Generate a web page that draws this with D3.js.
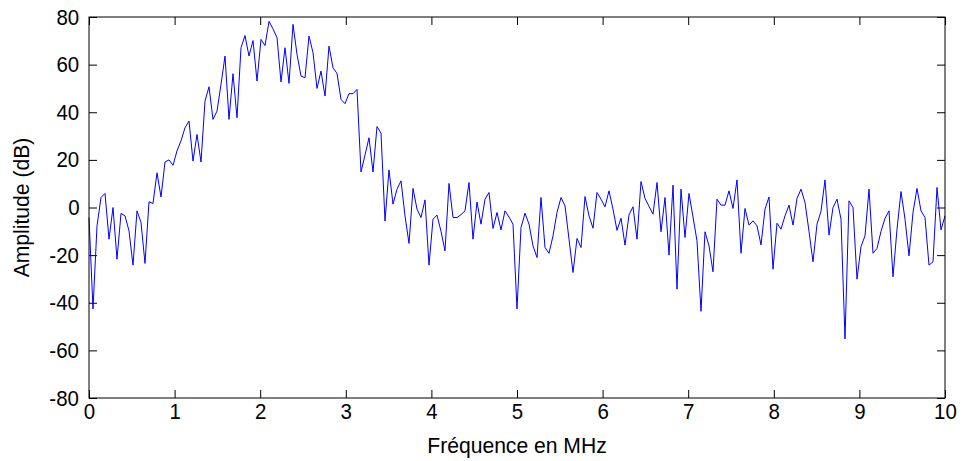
<!DOCTYPE html>
<html>
<head>
<meta charset="utf-8">
<script src="https://cdn.jsdelivr.net/npm/d3@7"></script>
<style>
    html, body { margin: 0; padding: 0; background: #fff; }
    svg { display: block; font-family: 'Liberation Sans', Arial, sans-serif; }
    svg text { transform-box: fill-box; transform-origin: center; }
    .tick text { transform: scaleX(0.93); }
    .axis-label { transform: scaleX(0.96); }
</style>
</head>
<body>
<div id="chart"></div>
<script>
'use strict';

// amplitude in dB, one sample every 10/214 MHz from 0 to 10 MHz
var amplitude = [
    -4.2, -42.6, -7.7, 4.2, 5.9, -13.3, 0, -21.7, -2.5, -3.5,
    -9.8, -24.2, -1.4, -6.3, -23.5, 2.4, 1.7, 14.6, 4.4, 19.1,
    20, 17.7, 23.8, 28, 33.5, 36.3, 19.5, 30.7, 19.1, 44.7,
    50.7, 37, 40.5, 51.7, 63.6, 37, 56.2, 37.7, 67.1, 72.2,
    63.6, 70.1, 53.1, 70.6, 68, 78.2, 75, 71.3, 52.7, 67.1,
    52.1, 76.9, 64.3, 55.2, 54.5, 72, 65, 50, 57.3, 46.8,
    67.8, 58.7, 56.3, 45.4, 43.6, 47.8, 47.8, 49.6, 14.9, 22,
    29.3, 14.9, 34, 31.2, -5.7, 15.8, 1.4, 7.7, 11.2, -3.5,
    -15.1, 8, -0.7, -4.2, 3.2, -24.2, -4.9, -3.2, -10, -18.2,
    10.1, -4.2, -4.2, -3, -1.4, 10.5, -13.3, 2.3, -7, 3.5,
    6.3, -8.8, -2.1, -9.4, -1.4, -4, -7, -42.6, -8.4, -2.4,
    -7, -16.1, -21, 4.2, -16.8, -19.2, -11.9, -2.1, 4.2, 0.7,
    -13.3, -27.3, -13, -16.8, 4.6, -3.5, -8.7, 6.3, 3.5, 0.3,
    7, -0.7, -9.6, -4.5, -15.8, -3.1, 0.3, -13.3, 10.9, 3.8,
    0.5, -2.8, 10.5, -10.2, 4.2, -20, 9.4, -34.3, 7.7, -12.6,
    5.9, -4, -14, -43.6, -10.2, -16.1, -27, 3.5, 1, 1,
    7, -0.4, 11.6, -19.2, -0.4, -7.4, -5.6, -7.7, -15.7, -0.7,
    4.4, -25.9, -6.6, -9.1, -3.5, 1, -7.4, 3.8, 7.7, 2.1,
    -10, -22.8, -7, -1.6, 11.6, -11.6, 0, 3.5, -4.9, -55.2,
    2.8, 0, -30.1, -16.4, -11.9, 7.7, -19.2, -17.2, -10, -4.6,
    -1.4, -29.1, -9.1, 6.7, -4.9, -20.3, -2.1, 8, -1.4, -4.2,
    -24.2, -22.8, 8.4, -9.4, -3.5
];
var freqDomain = [0, 10];
var ampDomain = [-80, 80];
var xTicks = [0, 1, 2, 3, 4, 5, 6, 7, 8, 9, 10];
var yTicks = [-80, -60, -40, -20, 0, 20, 40, 60, 80];
var xLabel = 'Fréquence en MHz';
var yLabel = 'Amplitude (dB)';

var width = 963;
var height = 461;
var margin = { top: 17, right: 18, bottom: 63, left: 89 };
var tickLen = 8;
var fontSize = 22;

var frequency = amplitude.map(function (d, i) {
    return i * (freqDomain[1] - freqDomain[0]) / (amplitude.length - 1);
});

var svg = d3.select('#chart').append('svg')
    .attr('width', width)
    .attr('height', height);

var x = d3.scaleLinear()
    .domain(freqDomain)
    .range([margin.left, width - margin.right]);

var y = d3.scaleLinear()
    .domain(ampDomain)
    .range([height - margin.bottom, margin.top]);

var fmt = function (d) { return String(d); };

// bottom axis with labels, ticks pointing inside
svg.append('g')
    .attr('transform', 'translate(0,' + y.range()[0] + ')')
    .call(d3.axisBottom(x).tickValues(xTicks).tickFormat(fmt)
        .tickSizeInner(-tickLen).tickSizeOuter(0).tickPadding(5));

// left axis with labels
svg.append('g')
    .attr('transform', 'translate(' + x.range()[0] + ',0)')
    .call(d3.axisLeft(y).tickValues(yTicks).tickFormat(fmt)
        .tickSizeInner(-tickLen).tickSizeOuter(0).tickPadding(9));

// mirrored ticks on top and right
svg.append('g')
    .attr('transform', 'translate(0,' + y.range()[1] + ')')
    .call(d3.axisTop(x).tickValues(xTicks).tickFormat('')
        .tickSizeInner(-tickLen).tickSizeOuter(0));

svg.append('g')
    .attr('transform', 'translate(' + x.range()[1] + ',0)')
    .call(d3.axisRight(y).tickValues(yTicks).tickFormat('')
        .tickSizeInner(-tickLen).tickSizeOuter(0));

svg.selectAll('.tick text')
    .attr('font-size', fontSize)
    .attr('font-family', "'Liberation Sans', Arial, sans-serif")
    .attr('fill', '#000');
svg.selectAll('.domain').remove();
svg.selectAll('.tick line').attr('stroke', '#000');

var line = d3.line()
    .x(function (d, i) { return x(frequency[i]); })
    .y(function (d) { return y(d); });

svg.append('path')
    .datum(amplitude)
    .attr('fill', 'none')
    .attr('stroke', '#0000ff')
    .attr('stroke-width', 1)
    .attr('d', line);

// frame
svg.append('rect')
    .attr('x', x.range()[0])
    .attr('y', y.range()[1])
    .attr('width', x.range()[1] - x.range()[0])
    .attr('height', y.range()[0] - y.range()[1])
    .attr('fill', 'none')
    .attr('stroke', '#000')
    .attr('stroke-width', 1);

svg.append('text')
    .attr('class', 'axis-label')
    .attr('x', (x.range()[0] + x.range()[1]) / 2)
    .attr('y', 453)
    .attr('text-anchor', 'middle')
    .attr('font-size', fontSize)
    .text(xLabel);

svg.append('g')
    .attr('transform', 'translate(29,' + (y.range()[0] + y.range()[1]) / 2 + ') rotate(-90)')
    .append('text')
    .attr('class', 'axis-label')
    .attr('text-anchor', 'middle')
    .attr('font-size', fontSize)
    .text(yLabel);
</script>
</body>
</html>
